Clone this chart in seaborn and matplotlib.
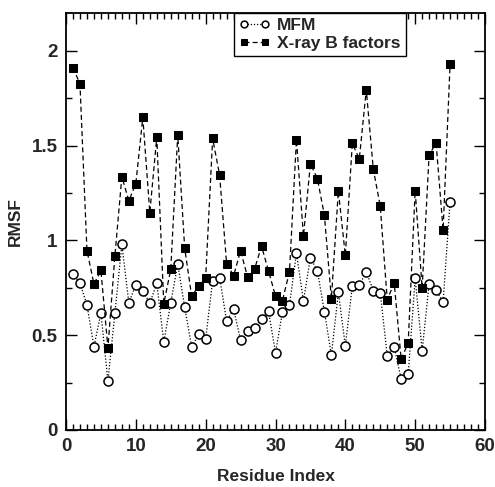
import numpy as np
import pandas as pd
import matplotlib
matplotlib.use("Agg")
import matplotlib.pyplot as plt
import seaborn as sns

residues = list(range(1, 56))

mfm = [0.823, 0.775, 0.660, 0.440, 0.616, 0.258, 0.616, 0.979, 0.670, 0.767,
       0.733, 0.668, 0.774, 0.465, 0.670, 0.875, 0.647, 0.438, 0.504, 0.481,
       0.788, 0.804, 0.574, 0.637, 0.474, 0.521, 0.539, 0.588, 0.626, 0.408,
       0.623, 0.660, 0.933, 0.681, 0.909, 0.839, 0.625, 0.396, 0.726, 0.444,
       0.760, 0.763, 0.835, 0.735, 0.723, 0.393, 0.439, 0.267, 0.293, 0.800,
       0.419, 0.772, 0.737, 0.675, 1.205]

xray_b = [1.912, 1.826, 0.947, 0.770, 0.842, 0.433, 0.918, 1.337, 1.209, 1.300,
          1.649, 1.147, 1.544, 0.667, 0.847, 1.556, 0.958, 0.705, 0.760, 0.804,
          1.538, 1.344, 0.877, 0.814, 0.946, 0.807, 0.849, 0.970, 0.839, 0.707,
          0.683, 0.835, 1.532, 1.023, 1.405, 1.326, 1.133, 0.693, 1.261, 0.921,
          1.512, 1.430, 1.795, 1.377, 1.181, 0.688, 0.775, 0.372, 0.460, 1.263,
          0.749, 1.453, 1.512, 1.056, 1.930]

series_names = ["MFM", "X-ray B factors"]
x_ticks = [0, 10, 20, 30, 40, 50, 60]
y_ticks = [0, 0.5, 1, 1.5, 2]
y_tick_labels = ["0", "0.5", "1", "1.5", "2"]

sns.set_style("ticks")
plt.rcParams["font.family"] = ["Liberation Sans", "DejaVu Sans"]
plt.rcParams["font.weight"] = "bold"

fig = plt.figure(figsize=(4.95, 4.87), dpi=100)
ax = fig.add_axes([66 / 495, 57 / 487, 419 / 495, 417 / 487])

df_mfm = pd.DataFrame({"residue": residues, "rmsf": mfm})
df_xray = pd.DataFrame({"residue": residues, "rmsf": xray_b})

sns.lineplot(data=df_mfm, x="residue", y="rmsf", ax=ax, sort=False, estimator=None,
             color="black", linestyle=(0, (1, 1.5)), linewidth=0.9,
             marker="o", markersize=6.5, markerfacecolor="white",
             markeredgecolor="black", markeredgewidth=1.1, label=series_names[0])
sns.lineplot(data=df_xray, x="residue", y="rmsf", ax=ax, sort=False, estimator=None,
             color="black", linestyle=(0, (4, 2.5)), linewidth=0.9,
             marker="s", markersize=6, markerfacecolor="black",
             markeredgecolor="black", label=series_names[1])

ax.set_xlim(0, 60)
ax.set_ylim(0, 2.2)
ax.set_xticks(x_ticks)
ax.set_xticks(np.arange(0, 61, 1), minor=True)
ax.set_yticks(y_ticks)
ax.set_yticklabels(y_tick_labels)
ax.set_yticks(np.arange(0, 2.21, 0.25), minor=True)

ax.tick_params(which="both", direction="in", top=True, right=True,
               width=1.0, color="black")
ax.tick_params(which="major", length=8, labelsize=13.5, pad=6)
ax.tick_params(which="minor", length=4)
for lbl in ax.get_xticklabels() + ax.get_yticklabels():
    lbl.set_fontweight("bold")

for sp in ax.spines.values():
    sp.set_linewidth(1.3)
    sp.set_color("black")

ax.set_xlabel("Residue Index", fontsize=12.5, fontweight="bold", labelpad=10)
ax.set_ylabel("RMSF", fontsize=12.5, fontweight="bold", labelpad=6)

leg = ax.legend(loc="upper left", bbox_to_anchor=(0.4, 1.0), borderaxespad=0,
                frameon=True, fancybox=False, framealpha=1, edgecolor="black",
                numpoints=2, markerscale=0.75, handlelength=1.8, handletextpad=0.4,
                labelspacing=0.15, borderpad=0.3,
                prop={"weight": "bold", "size": 12.5})
leg.get_frame().set_linewidth(1.0)

fig.savefig("out.png", dpi=100)
